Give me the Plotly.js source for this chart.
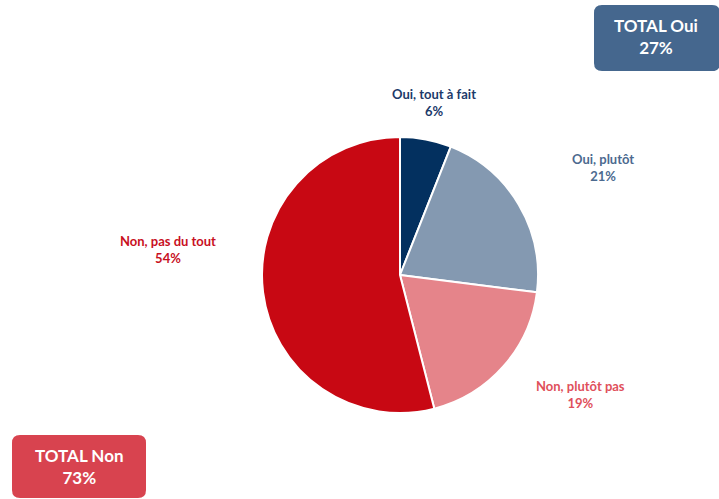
<!DOCTYPE html>
<html><head><meta charset="utf-8">
<script src="https://cdn.plot.ly/plotly-3.0.1.min.js"></script>
<style>html,body{margin:0;padding:0;background:#fff}#c{width:719px;height:499px}</style>
</head><body><div id="c"></div>
<script>
const categories = ["Oui, tout à fait", "Oui, plutôt", "Non, plutôt pas", "Non, pas du tout"];
const values = [6, 21, 19, 54];
const sliceColors = ["#03305f", "#8499b1", "#e5848a", "#c80813"];
const labelColors = ["#1c3a6a", "#4c6a8f", "#e0505b", "#c8101e"];
const totalLabels = ["TOTAL Oui", "TOTAL Non"];
const totalValues = [27, 73];

const labelPos = [[434, 103], [603, 167], [580, 394], [168, 250]];
const W = 719, H = 499;
const font = "Lato, 'Open Sans', sans-serif";

const annotations = categories.map((c, i) => ({
  x: labelPos[i][0] / W, y: 1 - labelPos[i][1] / H, xref: "paper", yref: "paper",
  xanchor: "center", yanchor: "middle",
  text: "<b>" + c + "</b><br><b>" + values[i] + "%</b>", showarrow: false,
  font: {family: font, size: 13, color: labelColors[i]}, align: "center"
}));

function rr(x0, y0, x1, y1, r) {
  const X = v => v / W, Y = v => 1 - v / H;
  return `M ${X(x0 + r)} ${Y(y0)} L ${X(x1 - r)} ${Y(y0)} Q ${X(x1)} ${Y(y0)} ${X(x1)} ${Y(y0 + r)} L ${X(x1)} ${Y(y1 - r)} Q ${X(x1)} ${Y(y1)} ${X(x1 - r)} ${Y(y1)} L ${X(x0 + r)} ${Y(y1)} Q ${X(x0)} ${Y(y1)} ${X(x0)} ${Y(y1 - r)} L ${X(x0)} ${Y(y0 + r)} Q ${X(x0)} ${Y(y0)} ${X(x0 + r)} ${Y(y0)} Z`;
}
const boxes = [[594, 5, 720, 71, "#45678e", [656, 37]], [12, 435, 146, 498, "#d8434f", [79, 466]]];
const shapes = boxes.map(b => ({type: "path", layer: "below", xref: "paper", yref: "paper", path: rr(b[0], b[1], b[2], b[3], 8), fillcolor: b[4], line: {width: 0}}));
boxes.forEach((b, i) => annotations.push({
  x: b[5][0] / W, y: 1 - b[5][1] / H, xref: "paper", yref: "paper", showarrow: false,
  xanchor: "center", yanchor: "middle",
  text: "<b>" + totalLabels[i] + "</b><br><b>" + totalValues[i] + "%</b>",
  font: {family: font, size: 17, color: "#ffffff"}, align: "center"
}));

Plotly.newPlot("c", [{
  type: "pie", labels: categories, values: values, sort: false, direction: "clockwise", rotation: 0,
  marker: {colors: sliceColors, line: {color: "#ffffff", width: 2}},
  textinfo: "none", hoverinfo: "none",
  domain: {x: [262 / W, 538 / W], y: [1 - 413 / H, 1 - 137 / H]}
}], {
  width: W, height: H, margin: {l: 0, r: 0, t: 0, b: 0}, showlegend: false,
  paper_bgcolor: "#fff", annotations: annotations, shapes: shapes
}, {displayModeBar: false, staticPlot: true});
</script></body></html>
